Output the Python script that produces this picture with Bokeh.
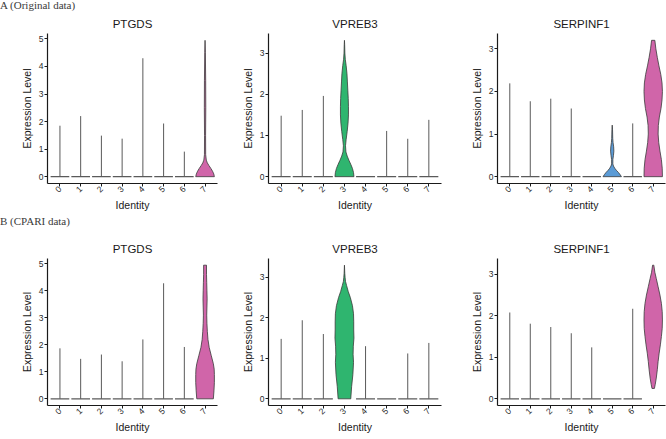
import numpy as np
from bokeh.plotting import figure
from bokeh.layouts import column, row
from bokeh.models import Div, Range1d, FixedTicker
from bokeh.embed import file_html
from bokeh.resources import INLINE

# ---------------- data ----------------
identities = [0, 1, 2, 3, 4, 5, 6, 7]
identity_labels = ["0", "1", "2", "3", "4", "5", "6", "7"]
genes = ["PTGDS", "VPREB3", "SERPINF1"]
row_labels = ["A (Original data)", "B (CPARI data)"]

# maximum expression per identity (top of each violin); 0 = no cells above 0
orig_ptgds_max = [1.85, 2.20, 1.49, 1.38, 4.30, 1.93, 0.91, 4.95]
orig_vpreb3_max = [1.48, 1.62, 1.96, 3.31, 0.00, 1.11, 0.92, 1.38]
orig_serpinf1_max = [2.19, 1.77, 1.83, 1.60, 0.00, 1.21, 1.25, 3.20]
cpari_ptgds_max = [1.87, 1.48, 1.64, 1.39, 2.20, 4.28, 1.92, 4.95]
cpari_vpreb3_max = [1.48, 1.94, 1.60, 3.30, 1.30, 0.00, 1.12, 1.38]
cpari_serpinf1_max = [2.08, 1.81, 1.73, 1.58, 1.24, 0.00, 2.17, 3.22]

# density profiles (expression level, violin half-width) of the visible violins
orig_ptgds_7_level = [0, 0.1, 0.2, 0.3, 0.4, 0.5, 0.6, 0.8, 1.5, 2.5, 3.5, 4.5, 4.95]
orig_ptgds_7_width = [0.45, 0.42, 0.36, 0.28, 0.19, 0.11, 0.06, 0.03, 0.025, 0.035, 0.03, 0.015, 0.0]

orig_vpreb3_3_level = [0, 0.1, 0.2, 0.3, 0.4, 0.5, 0.6, 0.75, 0.9, 1.1, 1.3, 1.5, 1.7, 1.9, 2.1,
                       2.3, 2.5, 2.7, 2.85, 3.0, 3.2, 3.31]
orig_vpreb3_3_width = [0.45, 0.43, 0.38, 0.30, 0.21, 0.13, 0.07, 0.05, 0.08, 0.13, 0.17, 0.19, 0.19,
                       0.18, 0.16, 0.14, 0.12, 0.08, 0.04, 0.02, 0.01, 0.0]

orig_serpinf1_5_level = [0, 0.05, 0.1, 0.15, 0.2, 0.25, 0.3, 0.4, 0.5, 0.6, 0.7, 0.8, 0.9, 1.0, 1.1, 1.21]
orig_serpinf1_5_width = [0.45, 0.38, 0.30, 0.20, 0.12, 0.06, 0.03, 0.03, 0.06, 0.08, 0.07, 0.04,
                         0.025, 0.02, 0.015, 0.0]

orig_serpinf1_7_level = [0, 0.2, 0.4, 0.6, 0.8, 1.0, 1.2, 1.4, 1.6, 1.8, 2.0, 2.2, 2.4, 2.6, 2.8, 3.0, 3.2]
orig_serpinf1_7_width = [0.45, 0.44, 0.40, 0.33, 0.27, 0.24, 0.25, 0.30, 0.38, 0.43, 0.45, 0.43,
                         0.37, 0.28, 0.20, 0.13, 0.08]

cpari_ptgds_7_level = [0, 0.3, 0.6, 0.9, 1.1, 1.3, 1.6, 1.9, 2.2, 2.5, 2.8, 3.1, 3.4, 3.7, 4.0,
                       4.3, 4.6, 4.95]
cpari_ptgds_7_width = [0.40, 0.43, 0.45, 0.45, 0.44, 0.40, 0.30, 0.20, 0.14, 0.11, 0.09, 0.08,
                       0.09, 0.10, 0.09, 0.08, 0.07, 0.07]

cpari_vpreb3_3_level = [0, 0.3, 0.6, 0.9, 1.1, 1.3, 1.5, 1.7, 1.9, 2.1, 2.3, 2.5, 2.65, 2.8, 2.9,
                        3.0, 3.1, 3.3]
cpari_vpreb3_3_width = [0.30, 0.34, 0.40, 0.43, 0.41, 0.42, 0.45, 0.44, 0.44, 0.43, 0.38, 0.28,
                        0.18, 0.10, 0.05, 0.03, 0.015, 0.0]

cpari_serpinf1_7_level = [0.25, 0.35, 0.5, 0.7, 0.9, 1.1, 1.3, 1.5, 1.7, 1.9, 2.1, 2.3, 2.5, 2.7,
                          2.9, 3.05, 3.22]
cpari_serpinf1_7_width = [0.06, 0.10, 0.15, 0.20, 0.24, 0.29, 0.35, 0.40, 0.44, 0.45, 0.44, 0.40,
                          0.33, 0.24, 0.15, 0.08, 0.03]

identity_colors = {3: "#2fb56f", 5: "#5b9bd6", 7: "#d065a9"}

# ---------------- styling ----------------
SANS = "Liberation Sans"
SERIF = "Liberation Serif"
AXIS_COL = "#1a1a1a"
OUTLINE = "#3a3a3a"
SPIKE = "#5a5a5a"


def make_panel(title, maxes, violins, width, bl, br, height, bt, bb, standoff):
    top = max(maxes)
    for lv, _ in violins.values():
        top = max(top, max(lv))
    pad = 0.05 * top
    p = figure(width=width, height=height,
               x_range=Range1d(-0.6, 7.6), y_range=Range1d(-pad, top + pad),
               output_backend="svg", toolbar_location=None,
               min_border_left=bl, min_border_right=br,
               min_border_top=bt, min_border_bottom=bb)
    p.title.text = title
    p.title.align = "center"
    p.title.text_font = SANS
    p.title.text_font_size = "11.5px"
    p.title.text_font_style = "normal"
    p.title.text_color = "#1a1a1a"
    if "standoff" in p.title.properties():
        p.title.standoff = standoff
    p.outline_line_color = None
    p.xgrid.visible = False
    p.ygrid.visible = False
    p.background_fill_color = "white"
    p.border_fill_color = "white"

    # flat (mostly zero) violins: baseline + thin spike
    for g, m in zip(identities, maxes):
        if g in violins:
            continue
        p.segment(x0=[g - 0.45], y0=[0], x1=[g + 0.45], y1=[0],
                  line_color=SPIKE, line_width=1.2)
        if m > 0:
            p.segment(x0=[g], y0=[0], x1=[g], y1=[m], line_color=SPIKE, line_width=1)

    # visible violins
    for g, (lv, wd) in violins.items():
        xs = [g + w for w in wd] + [g - w for w in reversed(wd)]
        ys = list(lv) + list(reversed(lv))
        p.patch(x=xs, y=ys, fill_color=identity_colors[g], line_color=OUTLINE,
                line_width=0.8)

    for ax in (p.xaxis[0], p.yaxis[0]):
        ax.axis_line_color = AXIS_COL
        ax.axis_line_width = 1.2
        ax.major_tick_line_color = AXIS_COL
        ax.major_tick_in = 0
        ax.major_tick_out = 3
        ax.minor_tick_line_color = None
        ax.major_label_text_font = SANS
        ax.major_label_text_font_size = "8.5px"
        ax.major_label_text_color = "#2a2a2a"
        ax.major_label_text_line_height = 1.0
        ax.axis_label_text_font = SANS
        ax.axis_label_text_font_size = "10.5px"
        ax.axis_label_text_font_style = "normal"
        ax.axis_label_text_color = "#1a1a1a"
        ax.axis_label_text_line_height = 1.0
        ax.major_label_standoff = 1
        ax.axis_label_standoff = 1

    p.yaxis.axis_label_standoff = 3
    p.xaxis.axis_label = "Identity"
    p.yaxis.axis_label = "Expression Level"
    p.xaxis.ticker = FixedTicker(ticks=identities)
    p.xaxis.major_label_overrides = {g: s for g, s in zip(identities, identity_labels)}
    p.xaxis.major_label_orientation = np.pi / 4
    p.yaxis.ticker = FixedTicker(ticks=list(range(int(np.floor(top + pad)) + 1)))
    return p


widths = [220, 223, 223]
b_left = [47, 48, 54]
b_right = [3, 2, 1]

orig_sets = [
    (orig_ptgds_max, {7: (orig_ptgds_7_level, orig_ptgds_7_width)}),
    (orig_vpreb3_max, {3: (orig_vpreb3_3_level, orig_vpreb3_3_width)}),
    (orig_serpinf1_max, {5: (orig_serpinf1_5_level, orig_serpinf1_5_width),
                         7: (orig_serpinf1_7_level, orig_serpinf1_7_width)}),
]
cpari_sets = [
    (cpari_ptgds_max, {7: (cpari_ptgds_7_level, cpari_ptgds_7_width)}),
    (cpari_vpreb3_max, {3: (cpari_vpreb3_3_level, cpari_vpreb3_3_width)}),
    (cpari_serpinf1_max, {7: (cpari_serpinf1_7_level, cpari_serpinf1_7_width)}),
]

row_a = [make_panel(genes[i], orig_sets[i][0], orig_sets[i][1], widths[i], b_left[i], b_right[i],
                    203, 22, 30, 7) for i in range(3)]
row_b = [make_panel(genes[i], cpari_sets[i][0], cpari_sets[i][1], widths[i], b_left[i], b_right[i],
                    208, 30, 27, 7) for i in range(3)]


def label_div(text, h, lh):
    return Div(text=text, width=300, height=h, margin=(0, 0, 0, 0),
               styles={"font-family": SERIF, "font-size": "11px", "line-height": f"{lh}px",
                       "color": "#3a3a3a", "white-space": "nowrap", "overflow": "hidden"})


layout = column(label_div(row_labels[0], 11, 10), row(*row_a),
                label_div(row_labels[1], 14, 14), row(*row_b), spacing=0)

html = file_html(layout, INLINE, title="Violin plots")
with open("out.html", "w") as f:
    f.write(html)
